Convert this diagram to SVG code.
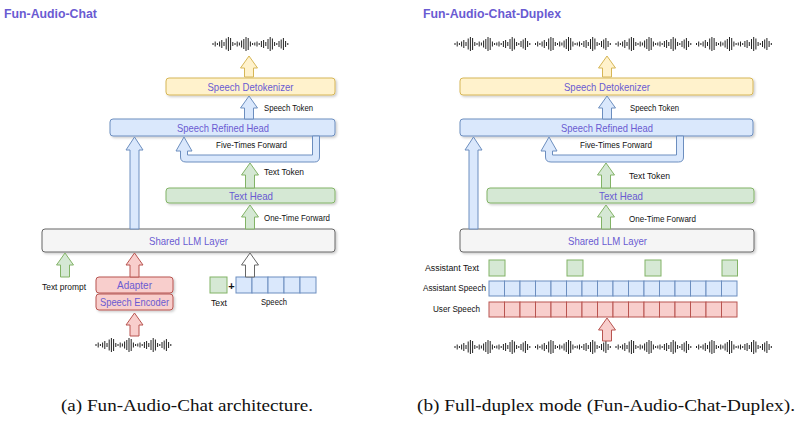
<svg xmlns="http://www.w3.org/2000/svg" xmlns:xlink="http://www.w3.org/1999/xlink" width="800" height="426" viewBox="0 0 800 426">
<style>
.title{font-family:"Liberation Sans",Arial,sans-serif;font-weight:bold;font-size:12.3px;fill:#6a5bd2}
.lbl{font-family:"Liberation Sans",Arial,sans-serif;font-size:10.5px;fill:#6a5bd2;text-anchor:middle}
.sm{font-family:"Liberation Sans",Arial,sans-serif;font-size:8.5px;fill:#111}
.cap{font-family:"Liberation Serif","Times New Roman",serif;font-size:16px;fill:#111}
.y{fill:#fff2cc;stroke:#d6b656;stroke-width:1}
.b{fill:#dae8fc;stroke:#6c8ebf;stroke-width:1}
.g{fill:#d5e8d4;stroke:#82b366;stroke-width:1}
.r{fill:#f8cecc;stroke:#b85450;stroke-width:1}
.w{fill:#ffffff;stroke:#666666;stroke-width:1}
.gr{fill:#f5f5f5;stroke:#666666;stroke-width:1}
.box{filter:url(#sh)}
.wave{fill:none;stroke:#222;stroke-width:1}
</style>
<defs>
<filter id="sh" x="-10%" y="-30%" width="120%" height="180%">
<feDropShadow dx="1.5" dy="1.5" stdDeviation="0.8" flood-color="#000" flood-opacity="0.2"/>
</filter>
<path id="wave" class="wave" d="M0-1V1M2.2-2.5V2.5M4.4-1V1M6.6-2.5V2.5M8.8-4V4M11-2V2M13.2-5.5V5.5M15.4-7V7M17.6-6V6M19.8-2V2M22-1V1M24.2-2.5V2.5M26.4-1.5V1.5M28.6-3.5V3.5M30.8-5V5M33-7V7M35.2-6V6M37.4-2.5V2.5M39.6-1V1M41.8-1.5V1.5M44-2.5V2.5M46.2-1V1M48.4-3V3M50.6-4V4M52.8-2V2M55-5V5M57.2-7V7M59.4-5.5V5.5M61.6-2V2M63.8-1V1M66-3V3M68.2-4.5V4.5M70.4-6V6M72.6-3V3M74.8-1V1"/>
</defs>
<rect width="800" height="426" fill="#ffffff"/>

<!-- Titles -->
<text class="title" x="4" y="17.5">Fun-Audio-Chat</text>
<text class="title" x="423" y="17.5">Fun-Audio-Chat-Duplex</text>

<!-- Waveforms -->
<g id="waveforms">
<use xlink:href="#wave" href="#wave" transform="translate(213,44)"/>
<use xlink:href="#wave" href="#wave" transform="translate(96,345)"/>
<use xlink:href="#wave" href="#wave" transform="translate(455,44)"/>
<use xlink:href="#wave" href="#wave" transform="translate(535.5,44)"/>
<use xlink:href="#wave" href="#wave" transform="translate(616,44)"/>
<use xlink:href="#wave" href="#wave" transform="translate(696.5,44)"/>
<use xlink:href="#wave" href="#wave" transform="translate(455,347)"/>
<use xlink:href="#wave" href="#wave" transform="translate(535.5,347)"/>
<use xlink:href="#wave" href="#wave" transform="translate(616,347)"/>
<use xlink:href="#wave" href="#wave" transform="translate(696.5,347)"/>
</g>

<!-- Left panel nodes -->
<g id="a-detokenizer"><rect class="y box" x="166" y="78" width="169" height="17" rx="3"/><text class="lbl" x="250.5" y="90.5" textLength="86" lengthAdjust="spacingAndGlyphs">Speech Detokenizer</text></g>
<g id="a-refined-head"><rect class="b box" x="110" y="119" width="225" height="17" rx="3"/><text class="lbl" x="223" y="131.5" textLength="92" lengthAdjust="spacingAndGlyphs">Speech Refined Head</text></g>
<g id="a-text-head"><rect class="g box" x="166" y="188" width="169" height="15" rx="3"/><text class="lbl" x="251" y="199.5" textLength="44" lengthAdjust="spacingAndGlyphs">Text Head</text></g>
<g id="a-llm"><rect class="gr box" x="42" y="229" width="293" height="23" rx="3"/><text class="lbl" x="188.5" y="244.5" textLength="79" lengthAdjust="spacingAndGlyphs">Shared LLM Layer</text></g>
<g id="a-adapter"><rect class="r box" x="96" y="277" width="77" height="16" rx="3"/><text class="lbl" x="134.5" y="289" textLength="35" lengthAdjust="spacingAndGlyphs">Adapter</text></g>
<g id="a-encoder"><rect class="r box" x="96" y="294" width="77" height="16" rx="3"/><text class="lbl" x="134.5" y="306" textLength="69" lengthAdjust="spacingAndGlyphs">Speech Encoder</text></g>
<g id="a-text-cell"><rect class="g" x="210" y="277" width="17" height="16"/></g>
<g id="a-speech-cells">
<rect class="b" x="236" y="277" width="16" height="16"/><rect class="b" x="252" y="277" width="16" height="16"/><rect class="b" x="268" y="277" width="16" height="16"/><rect class="b" x="284" y="277" width="16" height="16"/><rect class="b" x="300" y="277" width="16" height="16"/>
</g>
<g id="a-labels">
<text class="sm" x="264" y="111" textLength="49" lengthAdjust="spacingAndGlyphs">Speech Token</text>
<text class="sm" x="216" y="148" textLength="71" lengthAdjust="spacingAndGlyphs">Five-Times Forward</text>
<text class="sm" x="264" y="175" textLength="40" lengthAdjust="spacingAndGlyphs">Text Token</text>
<text class="sm" x="264" y="221" textLength="66" lengthAdjust="spacingAndGlyphs">One-Time Forward</text>
<text class="sm" x="42" y="290" textLength="44" lengthAdjust="spacingAndGlyphs">Text prompt</text>
<text class="sm" x="211" y="306" textLength="16" lengthAdjust="spacingAndGlyphs">Text</text>
<text class="sm" x="261" y="305" textLength="26" lengthAdjust="spacingAndGlyphs">Speech</text>
<text class="sm" x="231.5" y="289.5" style="font-weight:bold;font-size:11px;text-anchor:middle">+</text>
</g>

<!-- Right panel nodes -->
<g id="b-detokenizer"><rect class="y box" x="460" y="78" width="293" height="17" rx="3"/><text class="lbl" x="607" y="90.5" textLength="86" lengthAdjust="spacingAndGlyphs">Speech Detokenizer</text></g>
<g id="b-refined-head"><rect class="b box" x="460" y="119" width="293" height="17" rx="3"/><text class="lbl" x="607" y="131.5" textLength="92" lengthAdjust="spacingAndGlyphs">Speech Refined Head</text></g>
<g id="b-text-head"><rect class="g box" x="487" y="188" width="267" height="15" rx="3"/><text class="lbl" x="621" y="199.5" textLength="44" lengthAdjust="spacingAndGlyphs">Text Head</text></g>
<g id="b-llm"><rect class="gr box" x="460" y="229" width="294" height="23" rx="3"/><text class="lbl" x="607.5" y="244.5" textLength="79" lengthAdjust="spacingAndGlyphs">Shared LLM Layer</text></g>
<g id="b-assistant-text">
<rect class="g" x="489" y="260" width="16" height="16"/><rect class="g" x="567" y="260" width="16" height="16"/><rect class="g" x="645" y="260" width="16" height="16"/><rect class="g" x="722" y="260" width="15.5" height="16"/>
</g>
<g id="b-assistant-speech">
<rect class="b" x="489" y="281" width="15.5" height="15"/><rect class="b" x="504.5" y="281" width="15.5" height="15"/><rect class="b" x="520" y="281" width="15.5" height="15"/><rect class="b" x="535.5" y="281" width="15.5" height="15"/><rect class="b" x="551" y="281" width="15.5" height="15"/><rect class="b" x="566.5" y="281" width="15.5" height="15"/><rect class="b" x="582" y="281" width="15.5" height="15"/><rect class="b" x="597.5" y="281" width="15.5" height="15"/><rect class="b" x="613" y="281" width="15.5" height="15"/><rect class="b" x="628.5" y="281" width="15.5" height="15"/><rect class="b" x="644" y="281" width="15.5" height="15"/><rect class="b" x="659.5" y="281" width="15.5" height="15"/><rect class="b" x="675" y="281" width="15.5" height="15"/><rect class="b" x="690.5" y="281" width="15.5" height="15"/><rect class="b" x="706" y="281" width="15.5" height="15"/><rect class="b" x="721.5" y="281" width="15.5" height="15"/>
</g>
<g id="b-user-speech">
<rect class="r" x="489" y="302" width="15.5" height="15"/><rect class="r" x="504.5" y="302" width="15.5" height="15"/><rect class="r" x="520" y="302" width="15.5" height="15"/><rect class="r" x="535.5" y="302" width="15.5" height="15"/><rect class="r" x="551" y="302" width="15.5" height="15"/><rect class="r" x="566.5" y="302" width="15.5" height="15"/><rect class="r" x="582" y="302" width="15.5" height="15"/><rect class="r" x="597.5" y="302" width="15.5" height="15"/><rect class="r" x="613" y="302" width="15.5" height="15"/><rect class="r" x="628.5" y="302" width="15.5" height="15"/><rect class="r" x="644" y="302" width="15.5" height="15"/><rect class="r" x="659.5" y="302" width="15.5" height="15"/><rect class="r" x="675" y="302" width="15.5" height="15"/><rect class="r" x="690.5" y="302" width="15.5" height="15"/><rect class="r" x="706" y="302" width="15.5" height="15"/><rect class="r" x="721.5" y="302" width="15.5" height="15"/>
</g>
<g id="b-labels">
<text class="sm" x="630" y="111" textLength="49" lengthAdjust="spacingAndGlyphs">Speech Token</text>
<text class="sm" x="580" y="148" textLength="72" lengthAdjust="spacingAndGlyphs">Five-Times Forward</text>
<text class="sm" x="629" y="179" textLength="41" lengthAdjust="spacingAndGlyphs">Text Token</text>
<text class="sm" x="629" y="222" textLength="67" lengthAdjust="spacingAndGlyphs">One-Time Forward</text>
<text class="sm" x="425" y="271" textLength="54" lengthAdjust="spacingAndGlyphs">Assistant Text</text>
<text class="sm" x="423" y="291" textLength="63" lengthAdjust="spacingAndGlyphs">Assistant Speech</text>
<text class="sm" x="433" y="312" textLength="47" lengthAdjust="spacingAndGlyphs">User Speech</text>
</g>

<!-- Connectors -->
<g id="connectors">
<path class="y" d="M244.5 77L244.5 68L240.5 68L249 56L257.5 68L253.5 68L253.5 77Z"/>
<path class="b" d="M244.5 119L244.5 108L240.5 108L249 96L257.5 108L253.5 108L253.5 119Z"/>
<path class="b" d="M319.5 136L319.5 157Q319.5 162 314.5 162L186 162Q180.5 162 180.5 157L180.5 151L176 151L184 137L192 151L187.5 151L187.5 155L312.5 155L312.5 136Z"/>
<path class="g" d="M245.5 188L245.5 175L241.5 175L250 163L258.5 175L254.5 175L254.5 188Z"/>
<path class="g" d="M245.5 229L245.5 217L241.5 217L250 205L258.5 217L254.5 217L254.5 229Z"/>
<path class="b" d="M130 229L130 150L126 150L134.5 137L143 150L139 150L139 229Z"/>
<path class="g" d="M60.5 277L60.5 265L56.5 265L65 253L73.5 265L69.5 265L69.5 277Z"/>
<path class="r" d="M130 277L130 265L126 265L134.5 253L143 265L139 265L139 277Z"/>
<path class="w" d="M245.5 277L245.5 265L241.5 265L250 253L258.5 265L254.5 265L254.5 277Z"/>
<path class="r" d="M130 336L130 325L126 325L134.5 313L143 325L139 325L139 336Z"/>

<path class="y" d="M602.5 77L602.5 68L598.5 68L607 56L615.5 68L611.5 68L611.5 77Z"/>
<path class="b" d="M602.5 119L602.5 108L598.5 108L607 96L615.5 108L611.5 108L611.5 119Z"/>
<path class="b" d="M683.5 136L683.5 157Q683.5 162 678.5 162L551 162Q545.5 162 545.5 157L545.5 151L541 151L549 137L557 151L552.5 151L552.5 155L676.5 155L676.5 136Z"/>
<path class="g" d="M601.5 188L601.5 175L597.5 175L606 163L614.5 175L610.5 175L610.5 188Z"/>
<path class="g" d="M601.5 229L601.5 217L597.5 217L606 205L614.5 217L610.5 217L610.5 229Z"/>
<path class="b" d="M469 229L469 150L465 150L473.5 137L482 150L478 150L478 229Z"/>
<path class="r" d="M602.5 341L602.5 330L598.5 330L607 318L615.5 330L611.5 330L611.5 341Z"/>
</g>

<!-- Captions -->
<text class="cap" x="61" y="411" textLength="252" lengthAdjust="spacingAndGlyphs">(a) Fun-Audio-Chat architecture.</text>
<text class="cap" x="417" y="411" textLength="378" lengthAdjust="spacingAndGlyphs">(b) Full-duplex mode (Fun-Audio-Chat-Duplex).</text>
</svg>
